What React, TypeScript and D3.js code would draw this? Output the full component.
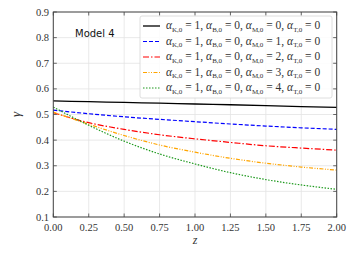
import React from "react";
import * as d3 from "d3";

const zValues = [0, 0.25, 0.5, 0.75, 1.0, 1.25, 1.5, 1.75, 2.0];
const gammaM0 = [0.553, 0.550, 0.547, 0.544, 0.541, 0.538, 0.535, 0.531, 0.528];
const gammaM1 = [0.517, 0.503, 0.491, 0.481, 0.472, 0.463, 0.455, 0.448, 0.442];
const gammaM2 = [0.507, 0.468, 0.442, 0.421, 0.405, 0.391, 0.378, 0.369, 0.361];
const gammaM3 = [0.509, 0.462, 0.418, 0.381, 0.353, 0.329, 0.310, 0.295, 0.283];
const gammaM4 = [0.529, 0.458, 0.396, 0.346, 0.307, 0.273, 0.246, 0.225, 0.208];
const alphaM = [0, 1, 2, 3, 4];
const seriesColors = ["#000000", "#0000ff", "#ff0000", "#ffa500", "#1f9a1f"];
const seriesDash = ["", "4,2", "6,2,1.5,2", "4,1.5,1,1.5,1,1.5", "1.5,1.5"];
const xTicks = [0, 0.25, 0.5, 0.75, 1.0, 1.25, 1.5, 1.75, 2.0];
const yTicks = [0.1, 0.2, 0.3, 0.4, 0.5, 0.6, 0.7, 0.8, 0.9];

const W = 354, H = 253;
const L = 53.3, R = 336.7, T = 12, B = 217;

export default function App() {
  const x = d3.scaleLinear().domain([0, 2]).range([L, R]);
  const y = d3.scaleLinear().domain([0.1, 0.9]).range([B, T]);
  const all = [gammaM0, gammaM1, gammaM2, gammaM3, gammaM4];
  const line = d3
    .line<number>()
    .x((_, i) => x(zValues[i]))
    .y((d) => y(d))
    .curve(d3.curveMonotoneX);
  const font = "'Liberation Serif', 'DejaVu Serif', serif";
  const legX = 140, legY = 16, legW = 192, legH = 82;
  const entryY = (i: number) => 26 + i * 15.5;

  const sub = (s: string) => (
    <tspan fontSize={7} dy={2.5}>{s}</tspan>
  );

  return (
    <svg width={W} height={H} style={{ position: "absolute", left: 0, top: 0 }}>
      <rect x={0} y={0} width={W} height={H} fill="#fff" />
      {xTicks.map((t) => (
        <line key={"gx" + t} x1={x(t)} x2={x(t)} y1={T} y2={B} stroke="#e3e3e3" strokeWidth={0.8} />
      ))}
      {yTicks.map((t) => (
        <line key={"gy" + t} x1={L} x2={R} y1={y(t)} y2={y(t)} stroke="#e3e3e3" strokeWidth={0.8} />
      ))}
      {all.map((s, i) => (
        <path
          key={"s" + i}
          d={line(s) || ""}
          fill="none"
          stroke={seriesColors[i]}
          strokeWidth={i === 0 ? 1.3 : 1.2}
          strokeDasharray={seriesDash[i]}
        />
      ))}
      <rect x={L} y={T} width={R - L} height={B - T} fill="none" stroke="#444" strokeWidth={1} />
      {xTicks.map((t) => (
        <g key={"tx" + t}>
          <line x1={x(t)} x2={x(t)} y1={B} y2={B - 3.5} stroke="#444" strokeWidth={0.8} />
          <line x1={x(t)} x2={x(t)} y1={T} y2={T + 3.5} stroke="#444" strokeWidth={0.8} />
          <text x={x(t)} y={231} textAnchor="middle" fontSize={10.5} fill="#333" fontFamily={font}>
            {t.toFixed(2)}
          </text>
        </g>
      ))}
      {yTicks.map((t) => (
        <g key={"ty" + t}>
          <line x1={L} x2={L + 3.5} y1={y(t)} y2={y(t)} stroke="#444" strokeWidth={0.8} />
          <line x1={R} x2={R - 3.5} y1={y(t)} y2={y(t)} stroke="#444" strokeWidth={0.8} />
          <text x={49} y={y(t) + 3.5} textAnchor="end" fontSize={10.5} fill="#333" fontFamily={font}>
            {t.toFixed(1)}
          </text>
        </g>
      ))}
      <text x={195} y={244} textAnchor="middle" fontSize={12} fontStyle="italic" fill="#333" fontFamily={font}>z</text>
      <text transform={`translate(20,${y(0.5)}) rotate(-90)`} textAnchor="middle" fontSize={13} fontStyle="italic" fill="#333" fontFamily={font}>γ</text>
      <text x={75} y={37} fontSize={10} fontFamily="'DejaVu Sans', sans-serif" fill="#111">Model 4</text>
      <rect x={legX} y={legY} width={legW} height={legH} rx={2} fill="#fff" fillOpacity={0.85} stroke="#d5d5d5" strokeWidth={0.8} />
      {alphaM.map((m, i) => (
        <g key={"lg" + i}>
          <line
            x1={143}
            x2={160}
            y1={entryY(i)}
            y2={entryY(i)}
            stroke={seriesColors[i]}
            strokeWidth={i === 0 ? 1.3 : 1.2}
            strokeDasharray={seriesDash[i]}
          />
          <text x={166} y={entryY(i) + 3} fontSize={11.5} fill="#333" fontFamily={font}>
            <tspan fontStyle="italic">α</tspan>
            {sub("K,0")}
            <tspan dy={-2.5}> = 1, </tspan>
            <tspan fontStyle="italic">α</tspan>
            {sub("B,0")}
            <tspan dy={-2.5}> = 0, </tspan>
            <tspan fontStyle="italic">α</tspan>
            {sub("M,0")}
            <tspan dy={-2.5}>{` = ${m}, `}</tspan>
            <tspan fontStyle="italic">α</tspan>
            {sub("T,0")}
            <tspan dy={-2.5}> = 0</tspan>
          </text>
        </g>
      ))}
    </svg>
  );
}
